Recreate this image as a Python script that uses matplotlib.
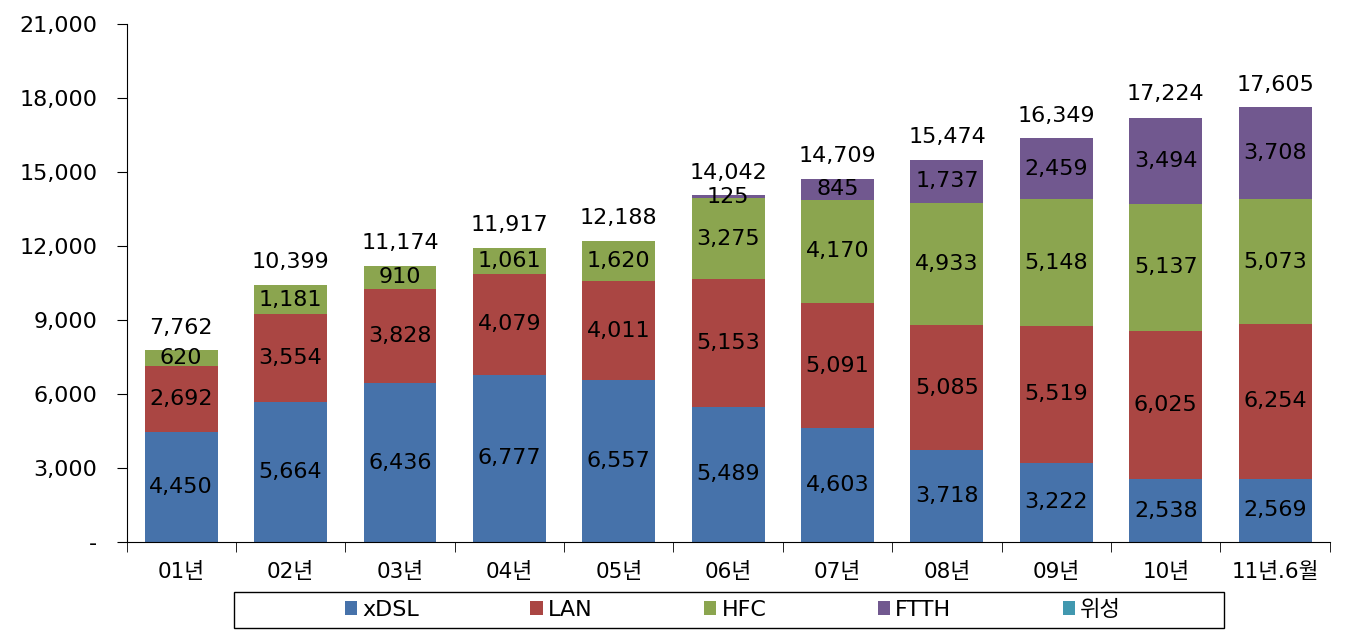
import matplotlib.pyplot as plt
import numpy as np
from matplotlib.ticker import FuncFormatter
from matplotlib.patches import Rectangle

plt.rcParams['font.family'] = ['DejaVu Sans', 'Noto Sans CJK KR']

categories = ['01년', '02년', '03년', '04년', '05년', '06년', '07년', '08년', '09년', '10년', '11년.6월']
xdsl = [4450, 5664, 6436, 6777, 6557, 5489, 4603, 3718, 3222, 2538, 2569]
lan = [2692, 3554, 3828, 4079, 4011, 5153, 5091, 5085, 5519, 6025, 6254]
hfc = [620, 1181, 910, 1061, 1620, 3275, 4170, 4933, 5148, 5137, 5073]
ftth = [0, 0, 0, 0, 0, 125, 845, 1737, 2459, 3494, 3708]
sat = [0, 0, 0, 0, 0, 0, 0, 0, 0, 0, 0]
totals = [7762, 10399, 11174, 11917, 12188, 14042, 14709, 15474, 16349, 17224, 17605]

series = [('xDSL', xdsl, '#4672AA'), ('LAN', lan, '#AA4643'),
          ('HFC', hfc, '#8BA54F'), ('FTTH', ftth, '#71588F'),
          ('위성', sat, '#4198AF')]

fig = plt.figure(figsize=(13.46, 6.37), dpi=100)
ax = fig.add_axes([0.094, 0.149, 0.894, 0.814])

x = np.arange(len(categories))
bottom = np.zeros(len(categories))
handles = []
for name, vals, col in series:
    vals = np.array(vals, dtype=float)
    b = ax.bar(x, vals, 0.667, bottom=bottom, color=col, label=name)
    handles.append(b)
    for i, v in enumerate(vals):
        if v > 0:
            ax.text(x[i], bottom[i] + v / 2, f'{int(v):,}', ha='center', va='center',
                    fontsize=16, color='black')
    bottom += vals

for i, t in enumerate(totals):
    ax.text(x[i], t + 520, f'{t:,}', ha='center', va='bottom', fontsize=16, color='black')

ax.set_xlim(-0.5, len(categories) - 0.5)
ax.set_ylim(0, 21000)
ax.set_yticks(np.arange(0, 21001, 3000))
ax.yaxis.set_major_formatter(FuncFormatter(lambda v, p: '-' if v == 0 else f'{int(v):,}'))
ax.set_xticks(x)
ax.set_xticklabels(categories)
ax.set_xticks(np.arange(-0.5, len(categories)), minor=True)
ax.tick_params(axis='x', which='major', length=0, labelsize=15.5, pad=14)
ax.tick_params(axis='x', which='minor', length=7, direction='out')
ax.tick_params(axis='y', length=7, direction='out', labelsize=16, pad=14)
for s in ['top', 'right']:
    ax.spines[s].set_visible(False)

# legend box
fig.patches.append(Rectangle((234 / 1346, 1 - 628 / 637), 990 / 1346, 36 / 637,
                             transform=fig.transFigure, fill=False,
                             edgecolor='black', linewidth=1.0))
leg = fig.legend(handles=handles, loc='center', bbox_to_anchor=(733 / 1346, 1 - 610 / 637),
                 ncol=5, frameon=False, fontsize=16,
                 handlelength=0.55, handleheight=0.55, handletextpad=0.25,
                 columnspacing=5.0, borderpad=0.3)

plt.savefig('out.png', dpi=100)
